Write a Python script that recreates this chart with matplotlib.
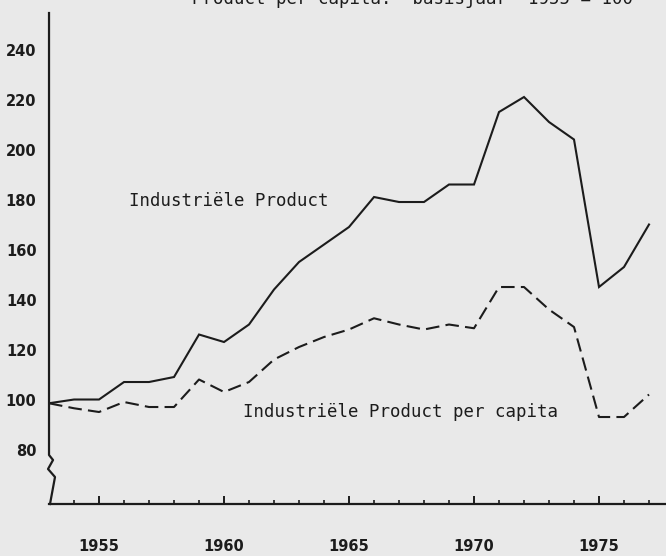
import matplotlib.pyplot as plt

years = list(range(1953, 1978))
industrie = [98.5, 100, 100, 107, 107, 109, 126, 123, 130, 144, 155, 162, 169,
             181, 179, 179, 186, 186, 215, 221, 211, 204, 145, 153, 170]
per_capita = [98.5, 96.5, 95, 99, 97, 97, 108, 103, 107, 116, 121, 125, 128,
              132.5, 130, 128, 130, 128.5, 145, 145, 136, 129, 93, 93, 102]

ytick_values = [80, 100, 120, 140, 160, 180, 200, 220, 240]
xtick_major = [1955, 1960, 1965, 1970, 1975]

paper = "#e9e9e9"
ink = "#1c1c1c"

fig = plt.figure(figsize=(6.66, 5.56), dpi=100, facecolor=paper)
ax = fig.add_axes([0.0736, 0.0935, 0.9264, 0.8831], facecolor=paper)

ax.plot(years, industrie, color=ink, lw=1.5, solid_joinstyle="miter")
ax.plot(years, per_capita, color=ink, lw=1.5, dashes=(6.5, 3))

ax.set_xlim(1953, 1977.68)
ax.set_ylim(58.2, 254.6)

# axes look: no left spine, hand-drawn y-axis with a break near the bottom
for s in ["top", "right", "left"]:
    ax.spines[s].set_visible(False)
ax.spines["bottom"].set_linewidth(1.6)
ax.spines["bottom"].set_color(ink)
ax.plot([0, 0, 0.0065, -0.0016, 0.0097, 0.0016],
        [1.0, 0.0998, 0.0896, 0.0713, 0.0550, 0.0],
        transform=ax.transAxes, color=ink, lw=1.6, clip_on=False)

ax.set_yticks(ytick_values)
ax.tick_params(axis="y", length=0, pad=9, labelsize=10.5, labelcolor=ink)
ax.set_xticks(xtick_major)
ax.set_xticks(range(1954, 1978), minor=True)
ax.tick_params(axis="x", which="major", direction="in", length=6, width=1.4,
               pad=25, labelsize=10.5, labelcolor=ink, color=ink)
ax.tick_params(axis="x", which="minor", direction="in", length=3, width=1.2,
               color=ink)
for lab in ax.get_xticklabels() + ax.get_yticklabels():
    lab.set_fontweight("bold")

ax.text(1956.2, 179.4, "Industriële Product", family="DejaVu Sans Mono",
        fontsize=12.5, color=ink, va="center", ha="left")
ax.text(1960.76, 95, "Industriële Product per capita", family="DejaVu Sans Mono",
        fontsize=12.5, color=ink, va="center", ha="left")

# title, cut off by the top of the scan
fig.text(192 / 666, 1 - 4.5 / 556, "Product per capita:  basisjaar  1955 = 100",
         family="DejaVu Sans Mono", fontsize=12.5, color=ink,
         ha="left", va="baseline")

fig.savefig("out.png", dpi=100, facecolor=paper)
